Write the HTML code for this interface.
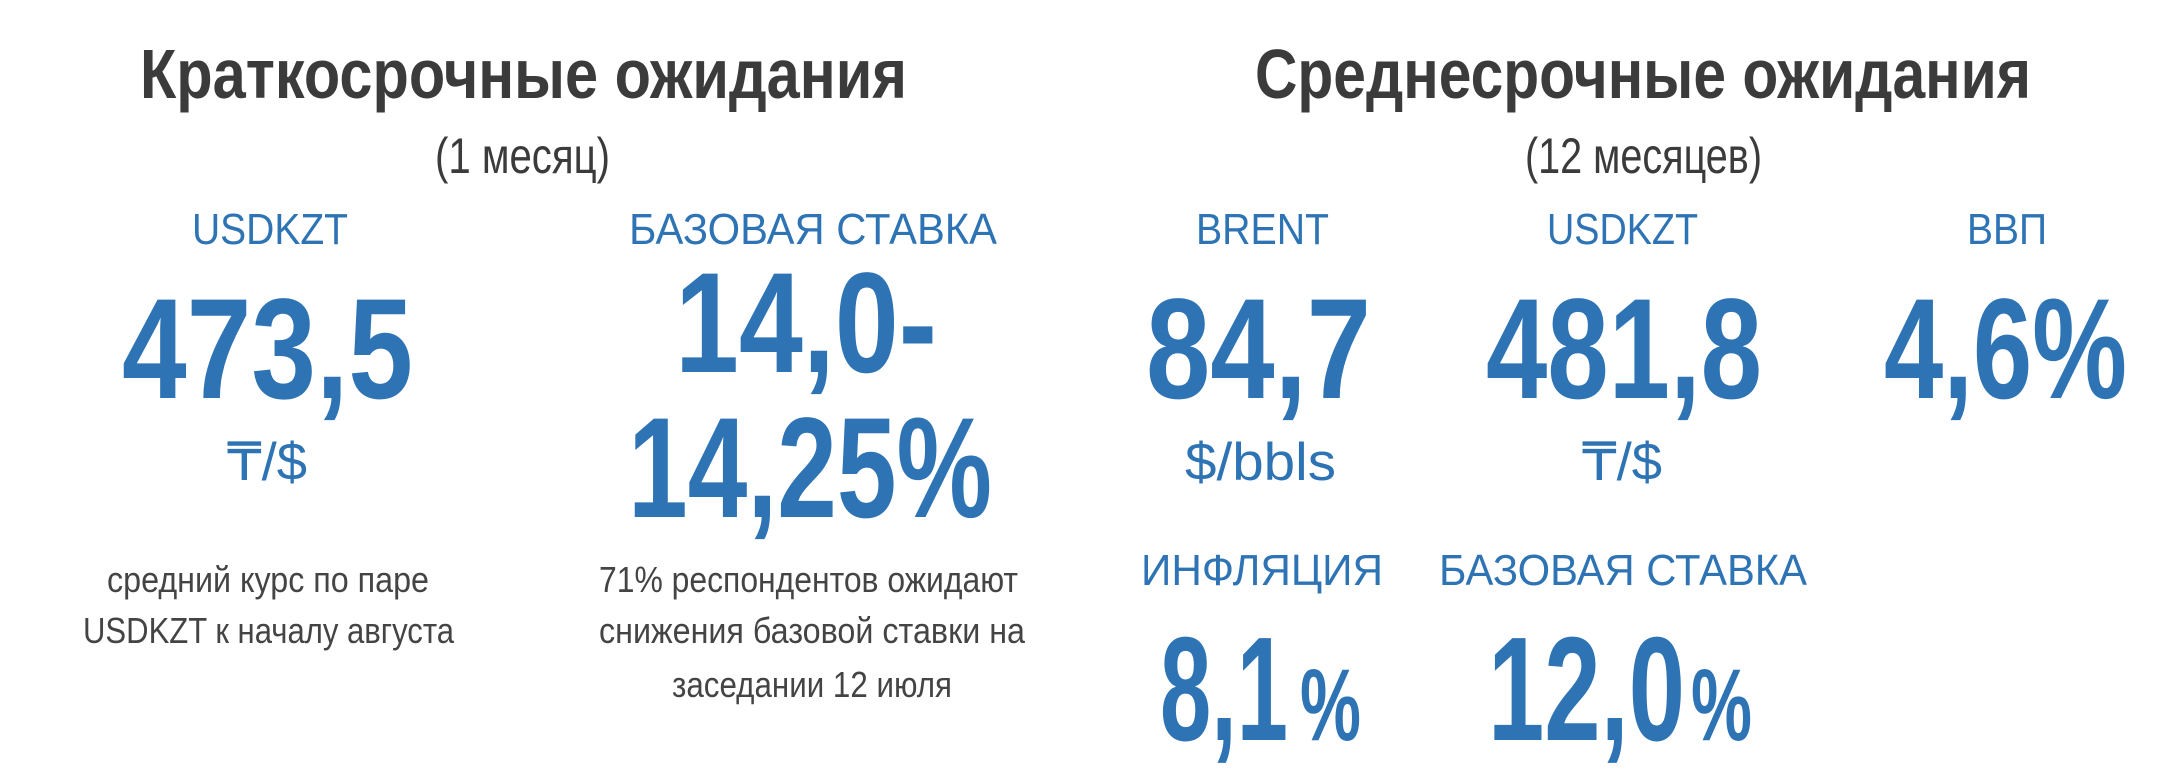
<!DOCTYPE html>
<html><head><meta charset="utf-8"><style>
html,body{margin:0;padding:0;background:#fff;}
svg{display:block;}
.t{font-family:"Liberation Sans",sans-serif;font-weight:bold;fill:#3b3b3b;}
.s{font-family:"Liberation Sans",sans-serif;fill:#3b3b3b;}
.l{font-family:"Liberation Sans",sans-serif;fill:#2e74b5;}
.n{font-family:"Liberation Sans",sans-serif;font-weight:bold;fill:#2e74b5;}
.d{font-family:"Liberation Sans",sans-serif;fill:#444;}
</style></head><body>
<svg width="2160" height="784" viewBox="0 0 2160 784" xmlns="http://www.w3.org/2000/svg">
<g>
<text class="t" x="140" y="98" font-size="70" textLength="767" lengthAdjust="spacingAndGlyphs">Краткосрочные ожидания</text>
<text class="s" x="435" y="173" font-size="50" textLength="175" lengthAdjust="spacingAndGlyphs">(1 месяц)</text>

<text class="l" x="192" y="244" font-size="44" textLength="156" lengthAdjust="spacingAndGlyphs">USDKZT</text>
<text class="n" x="122" y="398" font-size="143" textLength="291" lengthAdjust="spacingAndGlyphs">473,5</text>
<text class="l" x="227" y="480" font-size="53" textLength="80" lengthAdjust="spacingAndGlyphs">₸/$</text>
<text class="d" x="107" y="592" font-size="36" textLength="322" lengthAdjust="spacingAndGlyphs">средний курс по паре</text>
<text class="d" x="83" y="643" font-size="36" textLength="371" lengthAdjust="spacingAndGlyphs">USDKZT к началу августа</text>

<text class="l" x="629" y="244" font-size="44" textLength="368" lengthAdjust="spacingAndGlyphs">БАЗОВАЯ СТАВКА</text>
<text class="n" x="675" y="372" font-size="143" textLength="262" lengthAdjust="spacingAndGlyphs">14,0-</text>
<text class="n" x="628" y="517" font-size="143" textLength="364" lengthAdjust="spacingAndGlyphs">14,25%</text>
<text class="d" x="599" y="592" font-size="36" textLength="419" lengthAdjust="spacingAndGlyphs">71% респондентов ожидают</text>
<text class="d" x="599" y="643" font-size="36" textLength="426" lengthAdjust="spacingAndGlyphs">снижения базовой ставки на</text>
<text class="d" x="672" y="697" font-size="36" textLength="280" lengthAdjust="spacingAndGlyphs">заседании 12 июля</text>

<text class="t" x="1255" y="98" font-size="70" textLength="776" lengthAdjust="spacingAndGlyphs">Среднесрочные ожидания</text>
<text class="s" x="1525" y="173" font-size="50" textLength="237" lengthAdjust="spacingAndGlyphs">(12 месяцев)</text>

<text class="l" x="1196" y="244" font-size="44" textLength="133" lengthAdjust="spacingAndGlyphs">BRENT</text>
<text class="n" x="1146" y="398" font-size="143" textLength="225" lengthAdjust="spacingAndGlyphs">84,7</text>
<text class="l" x="1185" y="480" font-size="53" textLength="151" lengthAdjust="spacingAndGlyphs">$/bbls</text>

<text class="l" x="1547" y="244" font-size="44" textLength="151" lengthAdjust="spacingAndGlyphs">USDKZT</text>
<text class="n" x="1486" y="398" font-size="143" textLength="276" lengthAdjust="spacingAndGlyphs">481,8</text>
<text class="l" x="1582" y="480" font-size="53" textLength="80" lengthAdjust="spacingAndGlyphs">₸/$</text>

<text class="l" x="1967" y="244" font-size="44" textLength="80" lengthAdjust="spacingAndGlyphs">ВВП</text>
<text class="n" x="1884" y="398" font-size="143" textLength="243" lengthAdjust="spacingAndGlyphs">4,6%</text>

<text class="l" x="1141" y="585" font-size="44" textLength="242" lengthAdjust="spacingAndGlyphs">ИНФЛЯЦИЯ</text>
<text class="n" x="1160" y="740" font-size="148" textLength="128" lengthAdjust="spacingAndGlyphs">8,1</text>
<text class="n" x="1300" y="740" font-size="102" textLength="61" lengthAdjust="spacingAndGlyphs">%</text>

<text class="l" x="1439" y="585" font-size="44" textLength="368" lengthAdjust="spacingAndGlyphs">БАЗОВАЯ СТАВКА</text>
<text class="n" x="1488" y="740" font-size="148" textLength="197" lengthAdjust="spacingAndGlyphs">12,0</text>
<text class="n" x="1691" y="740" font-size="102" textLength="61" lengthAdjust="spacingAndGlyphs">%</text>
</g>
</svg>
</body></html>
